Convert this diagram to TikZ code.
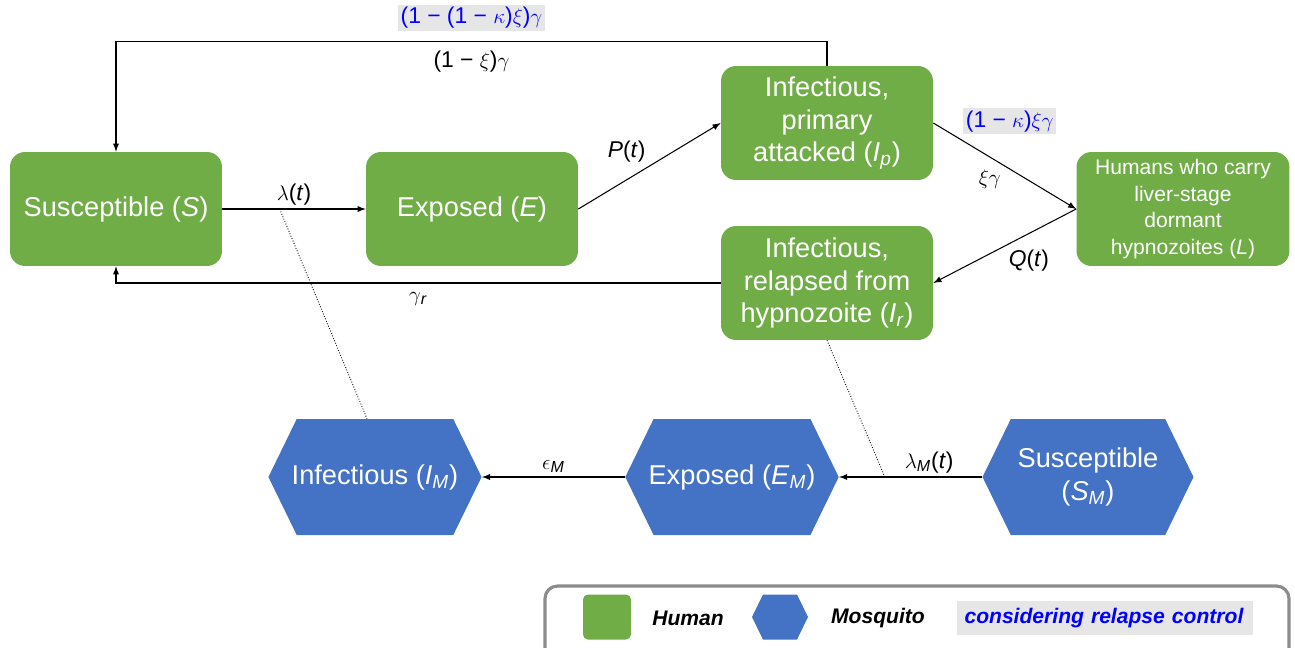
\documentclass[tikz,border=0pt]{standalone}
\usepackage{amsmath,amssymb}
\usepackage{fontspec}
\setmainfont{Liberation Sans}
\usetikzlibrary{shapes.symbols,positioning}

\definecolor{hgreen}{HTML}{70AD47}
\definecolor{mblue}{HTML}{4472C4}
\definecolor{lgray}{HTML}{E7E6E6}
\definecolor{fgray}{HTML}{8C8C8C}

\newcommand{\iv}[2]{\textit{#1}\textsubscript{\textit{#2}}}

\tikzset{
	human/.style={rounded corners=0.3cm, fill=hgreen, text=white, align=center, minimum width=4.24cm, minimum height=2.28cm, inner sep=2pt, font=\fontsize{15.5}{18.7}\selectfont},
	mosq/.style={shape=signal, signal to=east and west, signal pointer angle=128, fill=mblue, text=white, align=center, minimum width=4.22cm, minimum height=2.32cm, inner xsep=-0.1cm, inner ysep=2pt, font=\fontsize{15.5}{18.7}\selectfont},
	flow/.style={-latex, line width=0.6pt},
	lab/.style={font=\fontsize{13}{15}\selectfont, inner sep=2pt},
	blab/.style={lab, text=blue, fill=lgray, inner sep=1.5pt},
	legtext/.style={font=\fontsize{12}{14}\selectfont\bfseries\itshape}
}

\begin{document}
\begin{tikzpicture}[x=0.02cm, y=-0.02cm]
		\useasboundingbox (0,0) rectangle (1295,647);
		
		\node[human] (S) at (116,209) {Susceptible (\textit{S})};
		\node[human] (E) at (472,209) {Exposed (\textit{E})};
		\node[human] (Ip) at (827,123) {Infectious,\\primary\\attacked (\iv{I}{p})};
		\node[human] (Ir) at (827,283) {Infectious,\\relapsed from\\hypnozoite (\iv{I}{r})};
		\node[human, minimum width=4.26cm, font=\fontsize{12}{15.3}\selectfont] (L) at (1183,209) {Humans who carry\\liver-stage\\dormant\\hypnozoites (\textit{L})};
		
		\node[mosq] (IM) at (375,477) {Infectious (\iv{I}{M})};
		\node[mosq] (EM) at (732,477) {Exposed (\iv{E}{M})};
		\node[mosq] (SM) at (1088,477) {Susceptible\\(\iv{S}{M})};
		
		\draw[flow] (S) -- (E) coordinate[pos=0.4] (lamS) node[lab, midway, above] (lam) {$\lambda$(\textit{t})};
		\draw[flow] (E.east) -- (Ip.west) node[lab, midway, above left] (pt) {\textit{P}(\textit{t})};
		\draw[flow] (Ip.east) -- (L.west) node[lab, midway, below left] (xg) {$\xi\gamma$}
			node[blab, midway, above=0.62cm, xshift=0.1cm] (xgc) {(1 − $\kappa$)$\xi\gamma$};
		\draw[flow] (L.west) -- (Ir.east) node[lab, midway, below right] (qt) {\textit{Q}(\textit{t})};
		\draw[flow] (Ir.west) -| (S.south) node[lab, pos=0.25, below=0.1cm] (gr) {$\gamma$\textsubscript{\textit{r}}};
		\draw[flow] (Ip.north) -- ++(0,-24) -| (S.north) node[lab, pos=0.25, below=0.1cm] (xig) {(1 − $\xi$)$\gamma$}
			node[blab, pos=0.25, above=0.2cm] (xigc) {(1 − (1 − $\kappa$)$\xi$)$\gamma$};
		
		\draw[flow] (SM.west) -- (EM.east) coordinate[pos=0.68] (lamE) node[lab, pos=0.37, above] (lamM) {$\lambda$\textsubscript{\textit{M}}(\textit{t})};
		\draw[flow] (EM.west) -- (IM.east) node[lab, midway, above] (eps) {$\epsilon$\textsubscript{\textit{M}}};
		
		\draw[densely dotted, line width=0.5pt] (lamS) -- ([xshift=-0.16cm]IM.north);
		\draw[densely dotted, line width=0.5pt] (Ir.south) -- (lamE);
		
		% legend
		\draw[fgray, line width=1.8pt, rounded corners=0.25cm] (545,586) rectangle (1289,665);
		\node[fill=hgreen, rounded corners=0.1cm, minimum width=0.96cm, minimum height=0.9cm] (leghum) at (607,617) {};
		\node[legtext] (leghumt) at (688,618) {Human};
		\node[shape=signal, signal to=east and west, signal pointer angle=128, fill=mblue, minimum width=1.12cm, minimum height=0.9cm, inner sep=0pt] (legmos) at (780,617) {};
		\node[legtext] (legmost) at (878,618) {Mosquito};
		\node[legtext, text=blue, fill=lgray, text width=5.62cm, inner xsep=0.15cm, minimum height=0.68cm, align=left] (legctl) at (1105,618) {considering relapse control};
		\end{tikzpicture}
\end{document}
